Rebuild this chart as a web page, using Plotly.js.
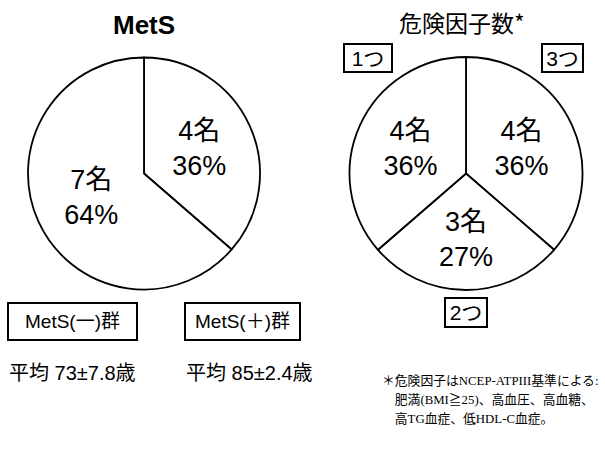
<!DOCTYPE html>
<html>
<head>
<meta charset="utf-8">
<script src="https://cdn.plot.ly/plotly-3.0.1.min.js"></script>
<style>html,body{margin:0;padding:0;background:#fff;}#chart{width:605px;height:454px;}</style>
</head>
<body>
<div id="chart"></div>
<script>
// Data
const metsLabels = ["MetS(＋)群", "MetS(一)群"];
const metsCounts = [4, 7];
const riskLabels = ["3つ", "2つ", "1つ"];
const riskCounts = [4, 3, 4];
const groupAges = ["平均 73±7.8歳", "平均 85±2.4歳"];
const titles = ["MetS", "危険因子数*"];
const footnote = ["＊危険因子はNCEP-ATPIII基準による:", "　肥満(BMI≧25)、高血圧、高血糖、", "　高TG血症、低HDL-C血症。"];

const W = 605, H = 454;
const px = x => x / W;
const py = y => 1 - y / H;
const sans = "Liberation Sans, Arial, Noto Sans CJK JP, sans-serif";
const cjk = "Noto Sans CJK JP, Liberation Sans, sans-serif";

const pieCommon = {
  type: "pie",
  sort: false,
  direction: "clockwise",
  rotation: 0,
  textinfo: "text",
  texttemplate: "%{value}名<br>%{percent:.0%}",
  textposition: "inside",
  insidetextorientation: "horizontal",
  textfont: {family: sans, size: 27, color: "#000"},
  marker: {colors: ["#fff", "#fff", "#fff"], line: {color: "#000", width: 1.8}},
  hoverinfo: "none",
  showlegend: false
};

const traces = [
  Object.assign({}, pieCommon, {
    labels: metsLabels, values: metsCounts,
    domain: {x: [px(28), px(260)], y: [py(290), py(57)]}
  }),
  Object.assign({}, pieCommon, {
    labels: riskLabels, values: riskCounts,
    domain: {x: [px(348), px(584)], y: [py(290), py(57)]}
  })
];

const boxAnn = (text, x, y, w, h, size) => ({
  text: text, x: px(x), y: py(y), xref: "paper", yref: "paper",
  xanchor: "center", yanchor: "middle", showarrow: false,
  font: {family: sans, size: size, color: "#000"},
  bordercolor: "#000", borderwidth: 2, borderpad: 0,
  width: w, height: h, bgcolor: "#fff"
});

const plain = (text, x, y, size, family) => ({
  text: text, x: px(x), y: py(y), xref: "paper", yref: "paper",
  xanchor: "left", yanchor: "middle", align: "left", showarrow: false,
  font: {family: family, size: size, color: "#000"}
});

const serif = "Liberation Serif, Noto Sans CJK JP, serif";

const annotations = [
  {text: "<b>" + titles[0] + "</b>", x: px(144), y: py(25), xref: "paper", yref: "paper",
   xanchor: "center", yanchor: "middle", showarrow: false,
   font: {family: sans, size: 26, color: "#000"}},
  {text: titles[1], x: px(462), y: py(22), xref: "paper", yref: "paper",
   xanchor: "center", yanchor: "middle", showarrow: false,
   font: {family: cjk, size: 23, color: "#000"}},
  boxAnn(riskLabels[2], 368, 57.5, 46, 26, 21),
  boxAnn(riskLabels[0], 562.5, 57.5, 39, 26, 21),
  boxAnn(riskLabels[1], 466, 312.5, 40, 27, 21),
  boxAnn(metsLabels[1], 72.5, 321.5, 127, 35, 19),
  boxAnn(metsLabels[0], 242.5, 321.5, 113, 35, 19),
  plain(groupAges[0], 7, 373, 20, sans),
  plain(groupAges[1], 184, 373, 20, sans),
  plain(footnote[0], 380, 380, 12.8, serif),
  plain(footnote[1], 380, 399, 12.8, serif),
  plain(footnote[2], 380, 418, 12.8, serif)
];

const layout = {
  width: W, height: H,
  margin: {l: 0, r: 0, t: 0, b: 0},
  paper_bgcolor: "#fff", plot_bgcolor: "#fff",
  showlegend: false,
  annotations: annotations
};

Plotly.newPlot("chart", traces, layout, {staticPlot: true, displayModeBar: false});
</script>
</body>
</html>
